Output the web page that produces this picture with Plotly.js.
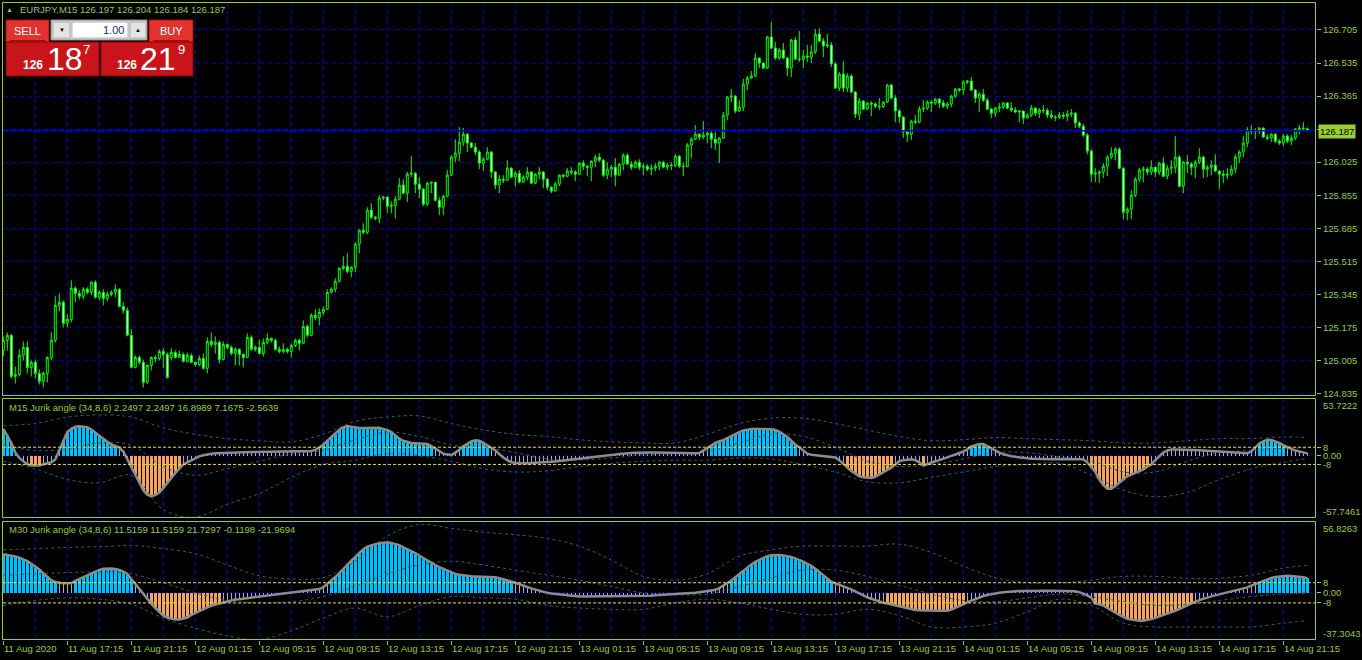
<!DOCTYPE html>
<html><head><meta charset="utf-8">
<script src="https://cdn.plot.ly/plotly-3.0.1.min.js"></script>
<style>html,body{margin:0;padding:0;background:#000;}#chart{width:1362px;height:660px;}</style>
</head><body><div id="chart"></div>
<script>
// ---------- DATA ----------
const symbolTitle = 'EURJPY,M15 126.197 126.204 126.184 126.187';
const ind1Title = 'M15 Jurik angle (34,8,6) 2.2497 2.2497 16.8989 7.1675 -2.5639';
const ind2Title = 'M30 Jurik angle (34,8,6) 11.5159 11.5159 21.7297 -0.1198 -21.9694';
const lastPrice = 126.187;
const priceTicks = [126.705,126.535,126.365,126.195,126.025,125.855,125.685,125.515,125.345,125.175,125.005,124.835];
const ind1Range = [-57.7461, 53.7222];
const ind2Range = [-37.3043, 56.8263];
const levels = [8, -8];
const timeLabels = ['11 Aug 2020','11 Aug 17:15','11 Aug 21:15','12 Aug 01:15','12 Aug 05:15','12 Aug 09:15','12 Aug 13:15','12 Aug 17:15','12 Aug 21:15','13 Aug 01:15','13 Aug 05:15','13 Aug 09:15','13 Aug 13:15','13 Aug 17:15','13 Aug 21:15','14 Aug 01:15','14 Aug 05:15','14 Aug 09:15','14 Aug 13:15','14 Aug 17:15','14 Aug 21:15'];
const barsPerLabel = 16;

const openP = [
125.056,125.108,125.134,124.923,124.933,125.031,125.072,124.969,124.995,124.938,
124.897,124.938,125.020,125.108,125.288,125.304,125.196,125.216,125.376,125.350,
125.335,125.371,125.355,125.407,125.330,125.355,125.324,125.345,125.355,125.371,
125.283,125.263,125.134,124.969,125.020,124.995,124.892,124.979,125.020,125.015,
125.051,125.036,125.020,125.046,125.020,125.036,125.000,125.031,124.995,124.984,
125.015,124.964,125.103,125.087,125.098,125.010,125.087,125.072,125.041,125.062,
125.036,125.020,125.123,125.062,125.072,125.041,125.098,125.118,125.108,125.062,
125.051,125.062,125.051,125.082,125.108,125.093,125.180,125.134,125.237,125.226,
125.252,125.268,125.355,125.371,125.412,125.479,125.489,125.463,125.484,125.603,
125.675,125.664,125.778,125.742,125.736,125.840,125.845,125.798,125.803,125.834,
125.907,125.865,125.963,125.968,125.912,125.886,125.809,125.917,125.922,125.829,
125.793,125.850,125.958,126.051,126.071,126.128,126.169,126.123,126.102,126.077,
126.020,126.040,126.077,125.974,125.907,125.937,125.932,125.994,125.948,125.968,
125.922,125.948,125.974,125.917,125.963,125.974,125.937,125.896,125.876,125.912,
125.958,125.953,125.979,125.974,125.963,126.020,126.004,125.999,126.030,126.051,
126.035,125.958,125.989,125.999,125.958,126.015,126.061,126.015,125.999,126.025,
125.999,126.004,125.989,125.994,126.004,126.025,125.999,126.010,126.008,126.056,
126.004,126.002,126.113,126.143,126.169,126.154,126.164,126.174,126.143,126.123,
126.149,126.267,126.360,126.365,126.288,126.308,126.427,126.458,126.468,126.561,
126.535,126.509,126.669,126.612,126.561,126.602,126.561,126.509,126.653,126.556,
126.554,126.571,126.566,126.592,126.684,126.648,126.623,126.628,126.530,126.406,
126.478,126.406,126.468,126.386,126.272,126.339,126.298,126.329,126.324,126.313,
126.311,126.334,126.422,126.355,126.288,126.257,126.180,126.169,126.236,126.231,
126.298,126.303,126.334,126.329,126.349,126.329,126.313,126.324,126.365,126.401,
126.396,126.437,126.442,126.396,126.355,126.375,126.344,126.298,126.277,126.303,
126.308,126.329,126.303,126.293,126.283,126.288,126.252,126.267,126.303,126.277,
126.293,126.291,126.267,126.257,126.255,126.267,126.262,126.272,126.277,126.226,
126.210,126.164,126.082,125.963,125.968,125.974,126.004,126.051,126.071,126.092,
125.994,125.767,125.783,125.855,125.937,125.984,125.989,125.974,125.999,125.974,
126.020,125.953,125.994,125.999,126.051,125.901,126.025,126.015,125.999,126.025,
126.051,125.989,125.999,126.010,125.979,125.963,125.958,125.963,125.989,126.051,
126.077,126.123,126.190,126.185,126.183,126.200,126.154,126.149,126.169,126.133,
126.123,126.159,126.133,126.149,126.195,126.200,126.197];

const highP = [
125.129,125.149,125.139,124.974,125.062,125.103,125.103,125.005,125.010,124.959,
124.948,125.026,125.149,125.335,125.350,125.314,125.242,125.417,125.386,125.366,
125.381,125.381,125.412,125.417,125.366,125.371,125.360,125.366,125.396,125.376,
125.304,125.278,125.165,125.031,125.031,125.010,124.984,125.026,125.031,125.062,
125.067,125.046,125.067,125.056,125.056,125.046,125.046,125.041,125.000,125.031,
125.041,125.123,125.149,125.129,125.108,125.103,125.093,125.082,125.072,125.067,
125.041,125.144,125.134,125.082,125.113,125.118,125.144,125.123,125.118,125.077,
125.093,125.072,125.093,125.118,125.118,125.211,125.190,125.247,125.268,125.273,
125.283,125.371,125.381,125.427,125.484,125.541,125.556,125.489,125.613,125.680,
125.711,125.793,125.814,125.747,125.855,125.850,125.850,125.824,125.850,125.943,
125.937,125.974,126.056,125.974,125.948,125.891,125.922,125.922,125.922,125.845,
125.855,125.984,126.061,126.143,126.205,126.200,126.174,126.128,126.123,126.087,
126.051,126.102,126.082,125.979,125.958,125.958,126.035,125.999,125.979,125.984,
125.958,125.999,125.979,125.968,125.999,125.979,125.943,125.901,125.922,125.963,
125.963,125.994,125.999,125.984,126.025,126.035,126.010,126.035,126.061,126.071,
126.040,126.025,126.010,126.046,126.020,126.071,126.071,126.030,126.035,126.040,
126.020,126.015,126.015,126.020,126.030,126.030,126.020,126.025,126.066,126.061,
126.025,126.123,126.154,126.216,126.174,126.236,126.185,126.185,126.180,126.154,
126.283,126.365,126.401,126.370,126.344,126.453,126.468,126.494,126.586,126.561,
126.535,126.674,126.746,126.643,126.612,126.638,126.566,126.659,126.669,126.700,
126.602,126.628,126.628,126.710,126.715,126.664,126.684,126.643,126.540,126.489,
126.545,126.483,126.478,126.391,126.355,126.344,126.334,126.339,126.334,126.355,
126.339,126.427,126.427,126.370,126.298,126.262,126.190,126.241,126.267,126.313,
126.344,126.344,126.344,126.355,126.355,126.344,126.334,126.370,126.406,126.406,
126.447,126.447,126.463,126.401,126.386,126.401,126.355,126.303,126.308,126.329,
126.334,126.334,126.334,126.308,126.293,126.288,126.277,126.319,126.308,126.303,
126.319,126.303,126.293,126.267,126.283,126.283,126.293,126.298,126.283,126.236,
126.221,126.174,126.092,125.994,125.984,126.020,126.061,126.102,126.102,126.102,
125.999,125.793,125.881,125.948,125.994,126.004,125.999,126.035,125.999,126.025,
126.051,126.010,126.035,126.159,126.061,126.030,126.061,126.025,126.035,126.097,
126.056,126.010,126.035,126.066,125.984,125.984,125.994,126.010,126.066,126.087,
126.159,126.205,126.216,126.200,126.205,126.205,126.169,126.174,126.174,126.143,
126.169,126.169,126.164,126.200,126.216,126.231,126.204];

const lowP = [
125.026,125.056,124.912,124.886,124.923,125.005,124.938,124.923,124.912,124.881,
124.866,124.892,125.005,125.098,125.257,125.175,125.175,125.201,125.304,125.319,
125.319,125.345,125.340,125.324,125.314,125.288,125.309,125.335,125.330,125.278,
125.247,125.129,124.964,124.964,124.984,124.866,124.886,124.953,124.995,125.005,
124.964,124.912,125.005,125.015,125.020,124.995,124.995,124.990,124.974,124.974,
124.959,124.938,125.072,125.041,124.990,125.005,125.062,125.031,124.979,124.979,
124.969,125.020,125.056,125.051,125.036,125.026,125.087,125.098,125.056,125.041,
125.041,125.041,125.020,125.072,125.056,125.093,125.123,125.129,125.211,125.185,
125.237,125.263,125.350,125.355,125.407,125.469,125.453,125.433,125.458,125.556,
125.654,125.654,125.731,125.726,125.711,125.829,125.762,125.762,125.736,125.829,
125.860,125.819,125.948,125.865,125.840,125.798,125.798,125.865,125.824,125.752,
125.752,125.845,125.953,126.025,126.030,126.107,126.077,126.097,126.061,125.989,
125.979,126.035,125.943,125.886,125.865,125.917,125.932,125.943,125.901,125.917,
125.917,125.932,125.912,125.912,125.937,125.891,125.881,125.865,125.876,125.901,
125.943,125.948,125.958,125.927,125.958,125.984,125.953,125.927,125.999,126.025,
125.948,125.937,125.948,125.901,125.958,125.984,126.010,125.984,125.994,125.984,
125.958,125.979,125.958,125.979,125.984,125.994,125.984,125.984,125.999,125.994,
125.953,125.999,126.046,126.138,126.138,126.143,126.123,126.097,126.087,126.020,
126.143,126.241,126.334,126.277,126.283,126.288,126.396,126.453,126.463,126.509,
126.504,126.504,126.607,126.550,126.550,126.556,126.468,126.463,126.550,126.540,
126.509,126.540,126.535,126.581,126.643,126.566,126.612,126.514,126.401,126.391,
126.386,126.386,126.380,126.252,126.241,126.293,126.293,126.262,126.303,126.293,
126.303,126.329,126.349,126.231,126.226,126.149,126.128,126.138,126.221,126.226,
126.283,126.293,126.283,126.319,126.303,126.303,126.298,126.308,126.355,126.386,
126.370,126.427,126.391,126.329,126.283,126.334,126.293,126.252,126.257,126.283,
126.298,126.298,126.283,126.277,126.231,126.221,126.252,126.257,126.262,126.252,
126.277,126.252,126.246,126.236,126.246,126.246,126.236,126.257,126.200,126.200,
126.154,126.066,125.922,125.922,125.917,125.943,125.953,126.040,126.035,125.989,
125.731,125.726,125.731,125.845,125.922,125.922,125.958,125.958,125.948,125.958,
125.948,125.937,125.963,125.968,125.896,125.865,125.968,125.958,125.943,126.015,
125.943,125.948,125.958,125.974,125.886,125.917,125.937,125.953,125.968,126.020,
126.051,126.102,126.169,126.143,126.169,126.149,126.138,126.128,126.123,126.113,
126.107,126.123,126.113,126.138,126.169,126.190,126.184];

const closeP = [
125.108,125.134,124.923,124.933,125.031,125.072,124.969,124.995,124.938,124.897,
124.938,125.020,125.108,125.288,125.304,125.196,125.216,125.376,125.350,125.335,
125.371,125.355,125.407,125.330,125.355,125.324,125.345,125.355,125.371,125.283,
125.263,125.134,124.969,125.020,124.995,124.892,124.979,125.020,125.015,125.051,
125.036,124.917,125.046,125.020,125.036,125.000,125.031,124.995,124.984,125.015,
124.964,125.103,125.087,125.098,125.010,125.087,125.072,125.041,125.062,125.036,
125.020,125.123,125.062,125.072,125.041,125.098,125.118,125.108,125.062,125.051,
125.062,125.051,125.082,125.108,125.093,125.180,125.134,125.237,125.226,125.252,
125.268,125.355,125.371,125.412,125.479,125.489,125.463,125.484,125.603,125.675,
125.664,125.778,125.742,125.736,125.840,125.845,125.798,125.803,125.834,125.907,
125.865,125.963,125.968,125.912,125.886,125.809,125.917,125.922,125.829,125.793,
125.850,125.958,126.051,126.071,126.128,126.169,126.123,126.102,126.077,126.020,
126.040,126.077,125.974,125.907,125.937,125.932,125.994,125.948,125.968,125.922,
125.948,125.974,125.917,125.963,125.974,125.937,125.896,125.876,125.912,125.958,
125.953,125.979,125.974,125.963,126.020,126.004,125.999,126.030,126.051,126.035,
125.958,125.989,125.999,125.958,126.015,126.061,126.015,125.999,126.025,125.999,
126.004,125.989,125.994,126.004,126.025,125.999,126.010,126.008,126.056,126.004,
126.002,126.113,126.143,126.169,126.154,126.164,126.174,126.143,126.123,126.149,
126.267,126.360,126.365,126.288,126.308,126.427,126.458,126.468,126.561,126.535,
126.509,126.669,126.612,126.561,126.602,126.561,126.509,126.653,126.556,126.554,
126.571,126.566,126.592,126.684,126.648,126.623,126.628,126.530,126.406,126.478,
126.406,126.468,126.386,126.272,126.339,126.298,126.329,126.324,126.313,126.311,
126.334,126.422,126.355,126.288,126.257,126.180,126.169,126.236,126.231,126.298,
126.303,126.334,126.329,126.349,126.329,126.313,126.324,126.365,126.401,126.396,
126.437,126.442,126.396,126.355,126.375,126.344,126.298,126.277,126.303,126.308,
126.329,126.303,126.293,126.283,126.288,126.252,126.267,126.303,126.277,126.293,
126.291,126.267,126.257,126.255,126.267,126.262,126.272,126.277,126.226,126.210,
126.164,126.082,125.963,125.968,125.974,126.004,126.051,126.071,126.092,125.994,
125.767,125.783,125.855,125.937,125.984,125.989,125.974,125.999,125.974,126.020,
125.953,125.994,125.999,126.051,125.901,126.025,126.015,125.999,126.025,126.051,
125.989,125.999,126.010,125.979,125.963,125.958,125.963,125.989,126.051,126.077,
126.123,126.190,126.185,126.183,126.200,126.154,126.149,126.169,126.133,126.123,
126.159,126.133,126.149,126.195,126.200,126.197,126.187];

const m15Angle = [
25,19,12,3,-2,-5,-7.8,-9,-9.1,-9,
-7.8,-7,-6,-3.4,5,15,22,25,27,27.5,
27,26.5,24.5,21.5,19,16,13,10.5,9,7.7,
4,-3,-11,-17,-25,-32,-36,-37.5,-36.5,-34,
-30,-25,-20,-16,-12,-7.9,-6,-4,-2,-0.5,
0.5,1.5,2,2.3,2.5,2.6,2.8,2.9,3,3.1,
3.2,3.4,3.5,3.6,3.7,3.8,3.8,3.9,3.9,3.9,
3.9,3.9,3.9,4,4.1,4.2,4.3,4.5,5.5,7.5,
10.5,14,18,21.5,24.2,26.5,27.7,27,26.1,25.8,
25.8,25.8,26,26.1,26,25,24,22,19,16,
14,13,12,11.8,11.5,11.3,11,9,7,4.5,
2,1,0.7,3,5.5,9,11.5,13.5,14.5,14,
12,10,7.5,4.9,1.5,-1.5,-4,-6,-6.5,-6.9,
-7,-6.9,-6.8,-6.6,-6.4,-6.3,-6,-5.6,-5.2,-4.8,
-4.4,-4,-3.6,-3.2,-2.8,-2.5,-2.1,-1.7,-1.3,-0.9,
-0.5,0,0.5,1.2,1.8,2.3,2.5,2.7,2.8,3,
3.1,3.2,3.2,3.1,3,2.9,2.8,2.6,2.4,2.3,
2.3,2.3,2.3,2.3,2.6,5,8,10,12,13.5,
14.5,16.5,18.5,20.5,22,23.5,24.5,25,25,25,
25,24.9,24.8,24,22.5,20,17.5,14,10.5,8,
5,2,1,0.5,0.2,0,-0.5,-1,-1.5,-4,
-8,-11,-14,-16.5,-19,-20,-20.5,-20.5,-19.5,-17.5,
-15,-13,-11,-8,-5,-4,-3.2,-3.1,-4,-6,
-9,-7.5,-6.3,-5,-4,-2.5,-1.5,0,1.2,2.3,
4,6,8.7,10,11,11,9,6.4,4.5,3,
1.6,0.5,-0.3,-0.9,-1.5,-2,-2.3,-2.6,-2.8,-3,
-3.1,-3.2,-3.1,-3,-3.1,-3.2,-3.3,-3.2,-3.1,-3.1,
-3.1,-6,-11,-15,-22,-27,-30.5,-30.5,-28,-25,
-21.5,-19,-17.5,-16,-14.2,-12.5,-10,-8,-4,0,
3,5,5.8,5.8,5.8,5.8,5.8,5.7,5.5,5.2,
5,4.7,4.4,4.2,4,3.7,3.4,3.2,3,2.8,
2.6,2.4,4,8,11.5,13.5,15,14.8,13.7,12,
10,8,6.5,5,4,3,2.2497];

const m30Angle = [
30.5,30,29.3,28.7,27.8,26.5,25,23,21,18.5,
15.5,13,10,8.5,7.7,7.5,7.5,7.8,9.5,11,
12.8,14,15.5,17,18.2,19,19.4,19.3,18.9,18.2,
16.8,15,11,7,3.5,-1,-5,-8.5,-12,-15,
-18,-19.5,-20.5,-21,-21,-20.5,-19.5,-17.5,-16,-14.5,
-13,-11.5,-10.2,-9.2,-8.3,-7.5,-6.5,-5.8,-5.3,-5,
-4.6,-4.3,-4,-3.7,-3.4,-3,-2.6,-2.2,-1.8,-1.3,
-1,-0.6,-0.2,0.3,0.8,1.3,1.7,2.1,2.5,3,
4.5,7,9.5,12.5,15.5,19,22,25.5,28.5,31.5,
34.5,36.5,37.8,38.5,39.3,39.8,40,39.5,38.6,37.8,
36,34.7,33,31.5,29.5,27.5,25.5,23.5,22,20.3,
19,17.5,16,15,14.3,13.8,13.5,13.2,13,12.8,
12.6,12.5,12.4,12.3,11.5,10.8,10,9,8,6.7,
5.6,4.6,3.5,2.5,1.5,0.8,0,-0.5,-0.9,-1.3,
-1.7,-2,-2.3,-2.6,-2.8,-2.8,-2.8,-2.8,-2.8,-2.8,
-2.8,-2.8,-2.8,-2.8,-2.8,-2.8,-2.8,-2.8,-2.8,-2.7,
-2.6,-2.5,-2.3,-2,-1.8,-1.7,-1.5,-1.4,-1.3,-1.1,
-1,-0.9,-0.5,0,0.5,1,1.5,1.7,2.5,3.8,
5.6,7.5,9.8,12.3,15,17.8,20.2,22.5,24.5,26.2,
27.8,29,29.8,30,29.9,29.6,29.2,28.4,27.3,26.2,
24.6,23,21.4,19,16.3,13.5,11,8.8,7.5,6.4,
5.4,4.4,2.8,1.2,-0.5,-2.3,-3.5,-4.7,-5.9,-7,
-7.8,-8.5,-9.3,-10,-10.5,-11.2,-12,-12.8,-13.5,-13.8,
-14,-14.1,-14.2,-14.2,-14.2,-14.2,-14.1,-13.2,-12,-10.7,
-9.2,-7.6,-6.2,-4.8,-3.5,-2.5,-1.7,-1,-0.4,0.1,
0.5,0.9,1.1,1.3,1.4,1.5,1.6,1.7,1.7,1.7,
1.7,1.6,1.6,1.5,1.5,1.4,1.4,1.3,1.2,0.5,
-0.5,-2,-3.8,-8.5,-9,-10,-12,-14,-15.5,-17.5,
-19,-20.5,-21.2,-21.8,-22,-22,-21.5,-20.8,-19.8,-18.8,
-17.8,-16.5,-15.2,-14.2,-12.8,-11.2,-9.7,-8.5,-7,-5.8,
-4.6,-3.6,-2.8,-2,-1.2,-0.5,-0.2,0.6,1.4,2.2,
3,4.3,5.7,7,8.3,9.6,10.9,11.8,12.5,13,
13.5,13.5,13.4,13.2,13,12.4,11.5159];

// envelope buffers, read at every 8th bar
const bandBars = [0,8,16,24,32,40,48,56,64,72,80,88,96,104,112,120,128,136,144,152,160,168,176,184,192,200,208,216,224,232,240,248,256,264,272,280,288,296,304,312,320,326];
const m15Upper = [28,30,36,38,36,26,20,16,14,13,20,32,36,37,30,24,20,18,15,13,12,12,20,30,35,35,30,24,18,14,15,17,16,15,14,12,12,14,16,16,17.5,16.8989];
const m15Mid   = [10,5,6,12,10,-10,-18,-12,-5,2,5,15,22,18,10,8,3,-3,-4,-2,1,2,4,12,20,18,8,-5,-10,-8,-3,3,3,-1,-5,-15,-15,-5,3,5,7,7.1675];
const m15Lower = [-5,-12,-22,-25,-18,-50,-57,-45,-35,-20,-8,-4,2,0,-5,-12,-15,-14,-10,-7,-5,-4,-4,-2,-3,-8,-15,-24,-25,-20,-15,-10,-8,-7,-18,-32,-38,-34,-22,-12,-6,-2.5639];
const m30Upper = [34,35,36,36.5,37.5,35,31,22,13.5,11,12,25,45,54,51,48,46,43,37,26,13,10,15,29,34,37,37,37,38.5,32,21,12,8,8,10,13,13,11.5,11.5,14,19.5,21.7297];
const m30Mid   = [14,15,16,16.5,15,8,0,-6,-8,-7,-3,5,15,22,25,22,18,14,10,5,0,-1.5,-1,5,12,18,18,13,6,-1,-6,-7,-4,-1,-3,-7,-10,-9,-6,-3,-1,-0.1198];
const m30Lower = [-10,-6,-4,-5,-9,-20,-28,-34,-37,-30,-20,-12,-19,-10,-3,-4,-5,-10,-12,-13,-13,-8,-5,-8,-13,-17,-17,-13,-18,-27,-27,-24,-15,-5,-10,-24,-27,-27,-27,-27,-24,-21.9694];

// ---------- STYLE ----------
const FG = '#9acd32', GRID = '#0000b0', LIME = '#00ff00';
const BLUE = '#00bfff', ORANGE = '#f4a460', LAV = '#a8a8dc', GRAY = '#8c8c8c', BAND = '#3a5f5f', GOLD = '#ffd700';
const FONT = 'Liberation Sans, Arial, sans-serif';
const W = 1362, H = 660, ML = 3, MR = 46, MT = 2, MB = 20;
const PW = W - ML - MR, PH = H - MT - MB;
const px = X => (X - ML) / PW;
const py = Y => (H - MB - Y) / PH;

const bars = closeP.map((_, i) => i);
const histColor = v => v > levels[0] ? BLUE : (v < levels[1] ? ORANGE : LAV);
const histWidth = v => (v > levels[0] || v < levels[1]) ? 0.75 : 0.25;

const traces = [
  {type:'candlestick', x:bars, open:openP, high:highP, low:lowP, close:closeP, xaxis:'x', yaxis:'y',
   increasing:{line:{color:LIME,width:1}, fillcolor:'#000000'},
   decreasing:{line:{color:LIME,width:1}, fillcolor:'#ffffff'},
   whiskerwidth:0, hoverinfo:'skip'},
  {type:'bar', x:bars, y:m15Angle, xaxis:'x', yaxis:'y2', marker:{color:m15Angle.map(histColor), line:{width:0}}, width:m15Angle.map(histWidth), hoverinfo:'skip'},
  {type:'scatter', mode:'lines', x:bandBars, y:m15Upper, xaxis:'x', yaxis:'y2', line:{color:BAND,width:1,dash:'3px,3px',shape:'spline'}, hoverinfo:'skip'},
  {type:'scatter', mode:'lines', x:bandBars, y:m15Mid, xaxis:'x', yaxis:'y2', line:{color:BAND,width:1,dash:'3px,3px',shape:'spline'}, hoverinfo:'skip'},
  {type:'scatter', mode:'lines', x:bandBars, y:m15Lower, xaxis:'x', yaxis:'y2', line:{color:BAND,width:1,dash:'3px,3px',shape:'spline'}, hoverinfo:'skip'},
  {type:'scatter', mode:'lines', x:bars, y:m15Angle, xaxis:'x', yaxis:'y2', line:{color:GRAY,width:2.5}, hoverinfo:'skip'},
  {type:'bar', x:bars, y:m30Angle, xaxis:'x', yaxis:'y3', marker:{color:m30Angle.map(histColor), line:{width:0}}, width:m30Angle.map(histWidth), hoverinfo:'skip'},
  {type:'scatter', mode:'lines', x:bandBars, y:m30Upper, xaxis:'x', yaxis:'y3', line:{color:BAND,width:1,dash:'3px,3px',shape:'spline'}, hoverinfo:'skip'},
  {type:'scatter', mode:'lines', x:bandBars, y:m30Mid, xaxis:'x', yaxis:'y3', line:{color:BAND,width:1,dash:'3px,3px',shape:'spline'}, hoverinfo:'skip'},
  {type:'scatter', mode:'lines', x:bandBars, y:m30Lower, xaxis:'x', yaxis:'y3', line:{color:BAND,width:1,dash:'3px,3px',shape:'spline'}, hoverinfo:'skip'},
  {type:'scatter', mode:'lines', x:bars, y:m30Angle, xaxis:'x', yaxis:'y3', line:{color:GRAY,width:2.5}, hoverinfo:'skip'}
];

const tickFont = {family:FONT, size:9.5, color:FG};
const yCommon = {side:'right', anchor:'x', ticks:'outside', ticklen:4, tickcolor:FG, tickfont:tickFont,
  showgrid:true, gridcolor:GRID, griddash:'5px,3px', gridwidth:1, zeroline:false, showline:false, fixedrange:true, tickmode:'array'};

const rect = (x0,y0,x1,y1,fill,line,lw) => ({type:'rect', xref:'paper', yref:'paper', x0:px(x0), x1:px(x1), y0:py(y1), y1:py(y0), fillcolor:fill, line:{color:line||fill, width:lw===undefined?1:lw}, layer:'above'});
const border = (x0,y0,x1,y1) => ({type:'rect', xref:'paper', yref:'paper', x0:px(x0), x1:px(x1), y0:py(y1), y1:py(y0), line:{color:FG,width:1}, layer:'above'});
const ann = (X,Y,text,size,color,xa,extra) => Object.assign({xref:'paper', yref:'paper', x:px(X), y:py(Y), text:text, showarrow:false, xanchor:xa||'left', yanchor:'middle', font:{family:FONT, size:size, color:color}}, extra||{});

const shapes = [
  ...levels.map(v => ({type:'line', xref:'paper', yref:'y2', x0:0, x1:1, y0:v, y1:v, line:{color:GOLD, width:1, dash:'3px,2px'}})),
  ...levels.map(v => ({type:'line', xref:'paper', yref:'y3', x0:0, x1:1, y0:v, y1:v, line:{color:GOLD, width:1, dash:'3px,2px'}})),
  {type:'line', xref:'paper', yref:'y', x0:0, x1:1, y0:lastPrice, y1:lastPrice, line:{color:'#0000d0', width:1.5}},
  border(2.5,2.5,1315.5,395.5),
  border(2.5,398.5,1315.5,517.5),
  border(2.5,521.5,1315.5,639.5),
  rect(6,20,49,42,'#e2332f','#a81010'),
  rect(51,20,147,40,'#d4d4d4','#8a8a8a'),
  rect(53,22,70,38,'#e4e4e4','#b0b0b0'),
  rect(130,22,146,38,'#e4e4e4','#b0b0b0'),
  rect(72,22,128,38,'#ffffff','#b8b8b8'),
  rect(149,20,193,42,'#e2332f','#a81010'),
  rect(6,42,99,76,'#c8141a','#8e0000'),
  rect(101,42,193,76,'#c8141a','#8e0000'),
  {type:'line', xref:'paper', yref:'paper', x0:px(10), x1:px(45), y0:py(40.5), y1:py(40.5), line:{color:'#9a1010', width:1}, layer:'above'},
  {type:'line', xref:'paper', yref:'paper', x0:px(153), x1:px(189), y0:py(40.5), y1:py(40.5), line:{color:'#9a1010', width:1}, layer:'above'}
];

const annotations = [
  ann(9,10,'▲',7,FG,'center'),
  ann(18,10,symbolTitle,9.5,FG),
  ann(7,407.5,ind1Title,9.5,FG),
  ann(7,529.5,ind2Title,9.5,FG),
  ann(1321,405.5,ind1Range[1].toFixed(4),9.5,FG),
  ann(1321,511.5,ind1Range[0].toFixed(4),9.5,FG),
  ann(1321,528,ind2Range[1].toFixed(4),9.5,FG),
  ann(1321,633,ind2Range[0].toFixed(4),9.5,FG),
  ann(1318,131,lastPrice.toFixed(3),9.5,'#000000','left',{bgcolor:FG, borderpad:1}),
  ...timeLabels.map((t,k) => ({xref:'x', yref:'paper', x:k*barsPerLabel, y:py(648.5), text:t, showarrow:false, xanchor:'left', yanchor:'middle', xshift:-1, font:{family:FONT, size:9.5, color:FG}})),
  ann(27.5,31,'SELL',11,'#ffffff','center'),
  ann(171,31,'BUY',11,'#ffffff','center'),
  ann(61.5,30,'▼',6,'#000000','center'),
  ann(138,30,'▲',6,'#000000','center'),
  ann(126,30,'1.00',11,'#1a2a6a','right'),
  ann(33,65,'<b>126</b>',12,'#ffffff','center'),
  ann(65,59,'18',32,'#ffffff','center'),
  ann(86,49,'7',13,'#ffffff','center'),
  ann(127,65,'<b>126</b>',12,'#ffffff','center'),
  ann(158,59,'21',32,'#ffffff','center'),
  ann(181,49,'9',13,'#ffffff','center')
];

const layout = {
  width:W, height:H, paper_bgcolor:'#000000', plot_bgcolor:'#000000',
  margin:{l:ML, r:MR, t:MT, b:MB, pad:0}, showlegend:false, hovermode:false, dragmode:false,
  font:{family:FONT, size:9.5, color:FG},
  bargap:0,
  xaxis:{range:[-0.075, 328.175], anchor:'y3', tickmode:'linear', tick0:0, dtick:barsPerLabel,
    showticklabels:false, ticks:'outside', ticklen:4, tickcolor:FG,
    showgrid:true, gridcolor:GRID, griddash:'5px,3px', gridwidth:1,
    minor:{tick0:0, dtick:barsPerLabel/2, showgrid:true, gridcolor:GRID, griddash:'5px,3px', gridwidth:1, ticks:''},
    zeroline:false, showline:false, rangeslider:{visible:false}, fixedrange:true},
  yaxis:Object.assign({}, yCommon, {domain:[py(396), 1], range:[124.822, 126.849],
    tickvals:priceTicks, ticktext:priceTicks.map(v => Math.abs(v - lastPrice) < 0.02 ? '' : v.toFixed(3))}),
  yaxis2:Object.assign({}, yCommon, {domain:[py(518), py(398)], range:ind1Range,
    tickvals:[8,0,-8], ticktext:['8','0.00','-8']}),
  yaxis3:Object.assign({}, yCommon, {domain:[0, py(521)], range:ind2Range,
    tickvals:[8,0,-8], ticktext:['8','0.00','-8']}),
  shapes:shapes, annotations:annotations
};

Plotly.newPlot('chart', traces, layout, {displayModeBar:false, staticPlot:true});
</script>
</body></html>
